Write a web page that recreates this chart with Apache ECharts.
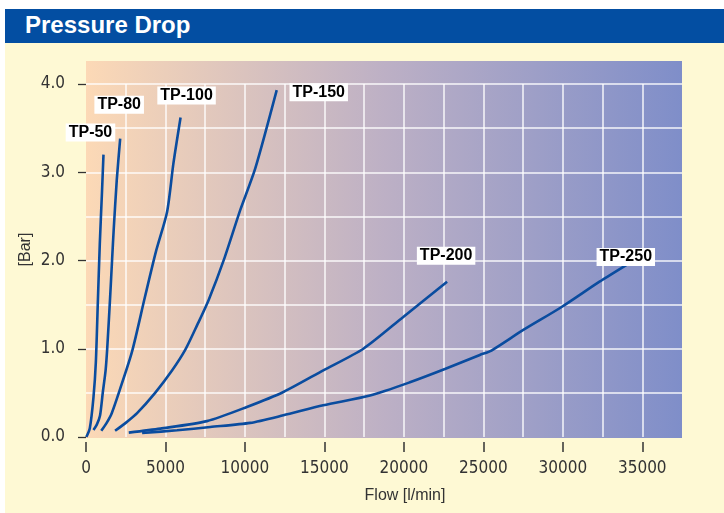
<!DOCTYPE html>
<html>
<head>
<meta charset="utf-8">
<script src="https://cdn.jsdelivr.net/npm/echarts@6/dist/echarts.min.js"></script>
<style>
  html, body { margin: 0; padding: 0; background: #fff; }
  #panel { position: absolute; left: 5px; top: 9px; width: 719px; height: 504px; background: #fef9d4; }
  #head { position: absolute; left: 5px; top: 9px; width: 719px; height: 34px; background: #034ea2;
          color: #fff; font: bold 24px 'Liberation Sans', Arial, sans-serif; line-height: 32px; }
  #head span { position: absolute; left: 20px; }
  #chart { position: absolute; left: 0; top: 0; width: 724px; height: 513px; }
</style>
</head>
<body>
<div id="panel"></div>
<div id="head"><span>Pressure Drop</span></div>
<div id="chart"></div>
<script>
// flow [l/min] / pressure drop [bar]
const flowTP50 = [20, 240, 470, 620, 740, 870, 1000, 1100];
const dropTP50 = [0.0, 0.1, 0.45, 0.85, 1.5, 2.2, 2.75, 3.2];
const flowTP80 = [470, 680, 880, 1060, 1230, 1331, 1520, 1645, 1740, 1935, 2150];
const dropTP80 = [0.08, 0.14, 0.24, 0.51, 0.75, 0.99, 1.59, 2.02, 2.34, 2.91, 3.38];
const flowTP100 = [960, 1300, 1620, 2100, 2900, 3700, 4400, 5100, 5500, 5950];
const dropTP100 = [0.07, 0.16, 0.27, 0.52, 0.97, 1.58, 2.1, 2.55, 3.1, 3.62];
const flowTP150 = [1830, 2500, 3215, 4350, 5400, 6250, 7000, 7712, 8717, 9703, 10645, 12000];
const dropTP150 = [0.07, 0.16, 0.27, 0.5, 0.75, 0.99, 1.27, 1.55, 2.03, 2.57, 3.04, 3.93];
const flowTP200 = [2690, 4680, 7610, 10120, 12420, 14930, 17450, 19960, 22720];
const dropTP200 = [0.05, 0.095, 0.18, 0.34, 0.51, 0.755, 1.0, 1.36, 1.76];
const flowTP250 = [3530, 5730, 7820, 10330, 12420, 14930, 17870, 20380, 22580, 24780, 25510, 27490, 29900, 32310, 34090];
const dropTP250 = [0.045, 0.076, 0.113, 0.16, 0.246, 0.36, 0.47, 0.62, 0.77, 0.93, 0.98, 1.21, 1.47, 1.76, 1.96];

const seriesNames = ['TP-50', 'TP-80', 'TP-100', 'TP-150', 'TP-200', 'TP-250'];
const xTickValues = [0, 5000, 10000, 15000, 20000, 25000, 30000, 35000];

// label box position relative to the end of each curve (px)
const labelOffsets = {
  'TP-50': [-13, -22], 'TP-80': [-1, -34], 'TP-100': [6, -22],
  'TP-150': [42, 2], 'TP-200': [-1, -26], 'TP-250': [-2, -7]
};

const curves = [
  [flowTP50, dropTP50], [flowTP80, dropTP80], [flowTP100, dropTP100],
  [flowTP150, dropTP150], [flowTP200, dropTP200], [flowTP250, dropTP250]
];

const narrow = "'Liberation Sans Narrow', 'DejaVu Sans Condensed', sans-serif";
const white = 'rgba(255,255,255,0.9)';
const xSplitColors = [];
for (let v = 0; v <= 37500; v += 2500) {
  xSplitColors.push(v === 0 || v === 37500 ? 'rgba(0,0,0,0)' : white);
}

var myChart = echarts.init(document.getElementById('chart'));
myChart.setOption({
  animation: false,
  backgroundColor: 'transparent',
  grid: [
    { // shaded plot background
      left: 86, right: 42, top: 61, bottom: 75, show: true, borderWidth: 0,
      backgroundColor: new echarts.graphic.LinearGradient(0, 0, 1, 0, [
        { offset: 0, color: '#fcd9b6' },
        { offset: 0.5, color: '#bdb0c5' },
        { offset: 1, color: '#7f8ec9' }
      ])
    },
    { left: 86, right: 42, top: 84, bottom: 76 }
  ],
  xAxis: [
    { gridIndex: 0, type: 'value', show: false, min: 0, max: 1 },
    {
      gridIndex: 1, type: 'value', min: 0, max: 37500, interval: 2500,
      axisLine: { show: false }, axisTick: { show: false }, axisLabel: { show: false },
      splitLine: { show: true, lineStyle: { color: xSplitColors, width: 1.5 } }
    },
    {
      gridIndex: 1, type: 'value', position: 'bottom', offset: 5, min: 0, max: 37500,
      axisLine: { show: false },
      splitLine: { show: false },
      axisTick: { show: true, customValues: xTickValues, length: 10, lineStyle: { color: '#333', width: 1.5 } },
      axisLabel: {
        customValues: xTickValues, margin: 18, color: '#333', fontSize: 17, fontFamily: narrow,
        formatter: function (value) { return String(value); }
      },
      name: 'Flow [l/min]', nameLocation: 'middle', nameGap: 46,
      nameTextStyle: { color: '#333', fontSize: 16, fontFamily: "'Liberation Sans', Arial, sans-serif", padding: [0, 0, 0, 42] }
    }
  ],
  yAxis: [
    {
      gridIndex: 0, type: 'value', min: 0, max: 1,
      axisLine: { show: false }, axisTick: { show: false }, axisLabel: { show: false }, splitLine: { show: false },
      name: '[Bar]', nameLocation: 'middle', nameGap: 52,
      nameTextStyle: { color: '#333', fontSize: 16, fontFamily: "'Liberation Sans', Arial, sans-serif" }
    },
    {
      gridIndex: 1, type: 'value', min: 0, max: 4, interval: 1, offset: 2,
      axisLine: { show: false },
      axisTick: { show: true, length: 8, lineStyle: { color: '#333', width: 1.3 } },
      axisLabel: {
        margin: 19, color: '#333', fontSize: 17, fontFamily: narrow,
        formatter: function (value) { return value.toFixed(1); }
      },
      splitLine: { show: true, lineStyle: { color: ['rgba(0,0,0,0)', white, white, white, white], width: 1.5 } },
      minorTick: { show: false, splitNumber: 2 },
      minorSplitLine: { show: true, lineStyle: { color: white, width: 1.5 } }
    }
  ],
  series: seriesNames.map(function (name, i) {
    const xs = curves[i][0], ys = curves[i][1];
    return {
      name: name,
      type: 'line',
      xAxisIndex: 1,
      yAxisIndex: 1,
      showSymbol: false,
      smooth: 0.25,
      lineStyle: { color: '#0a4c9f', width: 2.6 },
      data: xs.map(function (x, j) { return [x, ys[j]]; }),
      endLabel: {
        show: true, formatter: '{a}', align: 'center', verticalAlign: 'middle', distance: 0,
        offset: labelOffsets[name], backgroundColor: '#fff', padding: [1, 3],
        color: '#000', fontWeight: 'bold', fontSize: 16, fontFamily: "'Liberation Sans', Arial, sans-serif"
      }
    };
  })
});
window.onresize = function () {
  myChart.resize();
};
</script>
</body>
</html>
